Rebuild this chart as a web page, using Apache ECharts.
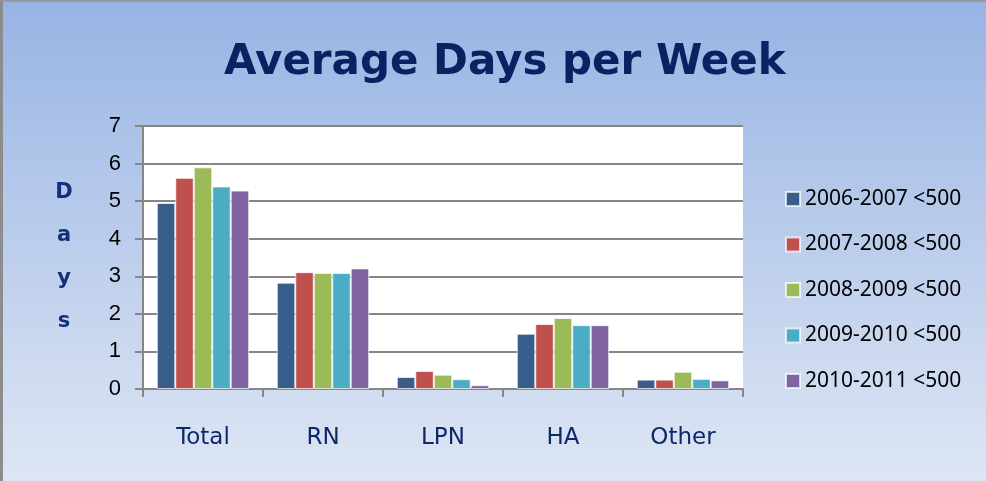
<!DOCTYPE html>
<html>
<head>
<meta charset="utf-8">
<script src="https://cdn.jsdelivr.net/npm/echarts@6/dist/echarts.min.js"></script>
<style>
  html, body { margin: 0; padding: 0; }
  #chart {
    width: 983px;
    height: 479px;
    border-left: 3px solid #8c8c8c;
    border-top: 2px solid #9a9a9a;
  }
</style>
</head>
<body>
<div id="chart"></div>
<script>
// categories and series
const categories = ['Total', 'RN', 'LPN', 'HA', 'Other']
const seriesNames = ['2006-2007 <500', '2007-2008 <500', '2008-2009 <500', '2009-2010 <500', '2010-2011 <500']
const y0607 = [4.95, 2.83, 0.32, 1.47, 0.25]
const y0708 = [5.62, 3.11, 0.48, 1.73, 0.25]
const y0809 = [5.90, 3.09, 0.38, 1.89, 0.46]
const y0910 = [5.39, 3.09, 0.26, 1.70, 0.27]
const y1011 = [5.28, 3.21, 0.10, 1.70, 0.23]
const colors = ['#385d8a', '#c0504d', '#9bbb59', '#4bacc6', '#8064a2']

const chartDom = document.getElementById('chart')
const myChart = echarts.init(chartDom)

const allData = [y0607, y0708, y0809, y0910, y1011]
const series = allData.map((d, i) => ({
  name: seriesNames[i],
  type: 'bar',
  data: d,
  barGap: 0,
  barCategoryGap: '23%',
  itemStyle: {
    color: colors[i],
    borderColor: 'rgba(255,255,255,0.7)',
    borderWidth: 1
  }
}))

const option = {
  animation: false,
  backgroundColor: {
    type: 'linear', x: 0, y: 0, x2: 0, y2: 1,
    colorStops: [
      { offset: 0, color: '#98b4e4' },
      { offset: 1, color: '#dee6f4' }
    ]
  },
  color: colors,
  title: {
    text: 'Average Days per Week',
    left: 216,
    top: 35,
    textStyle: {
      fontFamily: 'DejaVu Sans',
      fontWeight: 'bold',
      fontSize: 42,
      color: '#0b2262'
    }
  },
  legend: {
    orient: 'vertical',
    left: 777,
    top: 181,
    itemWidth: 14,
    itemHeight: 14,
    itemGap: 23.5,
    icon: 'rect',
    textStyle: {
      fontFamily: 'Noto Sans',
      fontSize: 21,
      lineHeight: 22,
      color: '#000'
    }
  },
  grid: {
    left: 140,
    right: 243,
    top: 124,
    bottom: 92,
    containLabel: false,
    show: true,
    backgroundColor: '#fff',
    borderWidth: 0
  },
  xAxis: {
    type: 'category',
    data: categories,
    axisLine: { lineStyle: { color: '#868686', width: 2 } },
    axisTick: { show: true, length: 8, lineStyle: { color: '#868686', width: 2 } },
    axisLabel: {
      margin: 38,
      fontFamily: 'DejaVu Sans',
      fontSize: 23,
      color: '#0d2a68'
    }
  },
  yAxis: {
    type: 'value',
    min: 0,
    max: 7,
    interval: 1,
    name: 'D\na\ny\ns',
    nameLocation: 'middle',
    nameRotate: 0,
    nameGap: 79,
    nameTextStyle: {
      fontFamily: 'DejaVu Sans',
      fontWeight: 'bold',
      fontSize: 21,
      lineHeight: 43,
      align: 'center',
      verticalAlign: 'middle',
      color: '#13307a'
    },
    axisLine: { show: true, lineStyle: { color: '#868686', width: 2 } },
    axisTick: { show: true, length: 8, lineStyle: { color: '#868686', width: 2 } },
    splitLine: { lineStyle: { color: '#868686', width: 2 } },
    axisLabel: {
      margin: 22,
      fontFamily: 'Liberation Sans',
      fontSize: 22,
      color: '#000'
    }
  },
  series: series
}
myChart.setOption(option)
</script>
</body>
</html>
